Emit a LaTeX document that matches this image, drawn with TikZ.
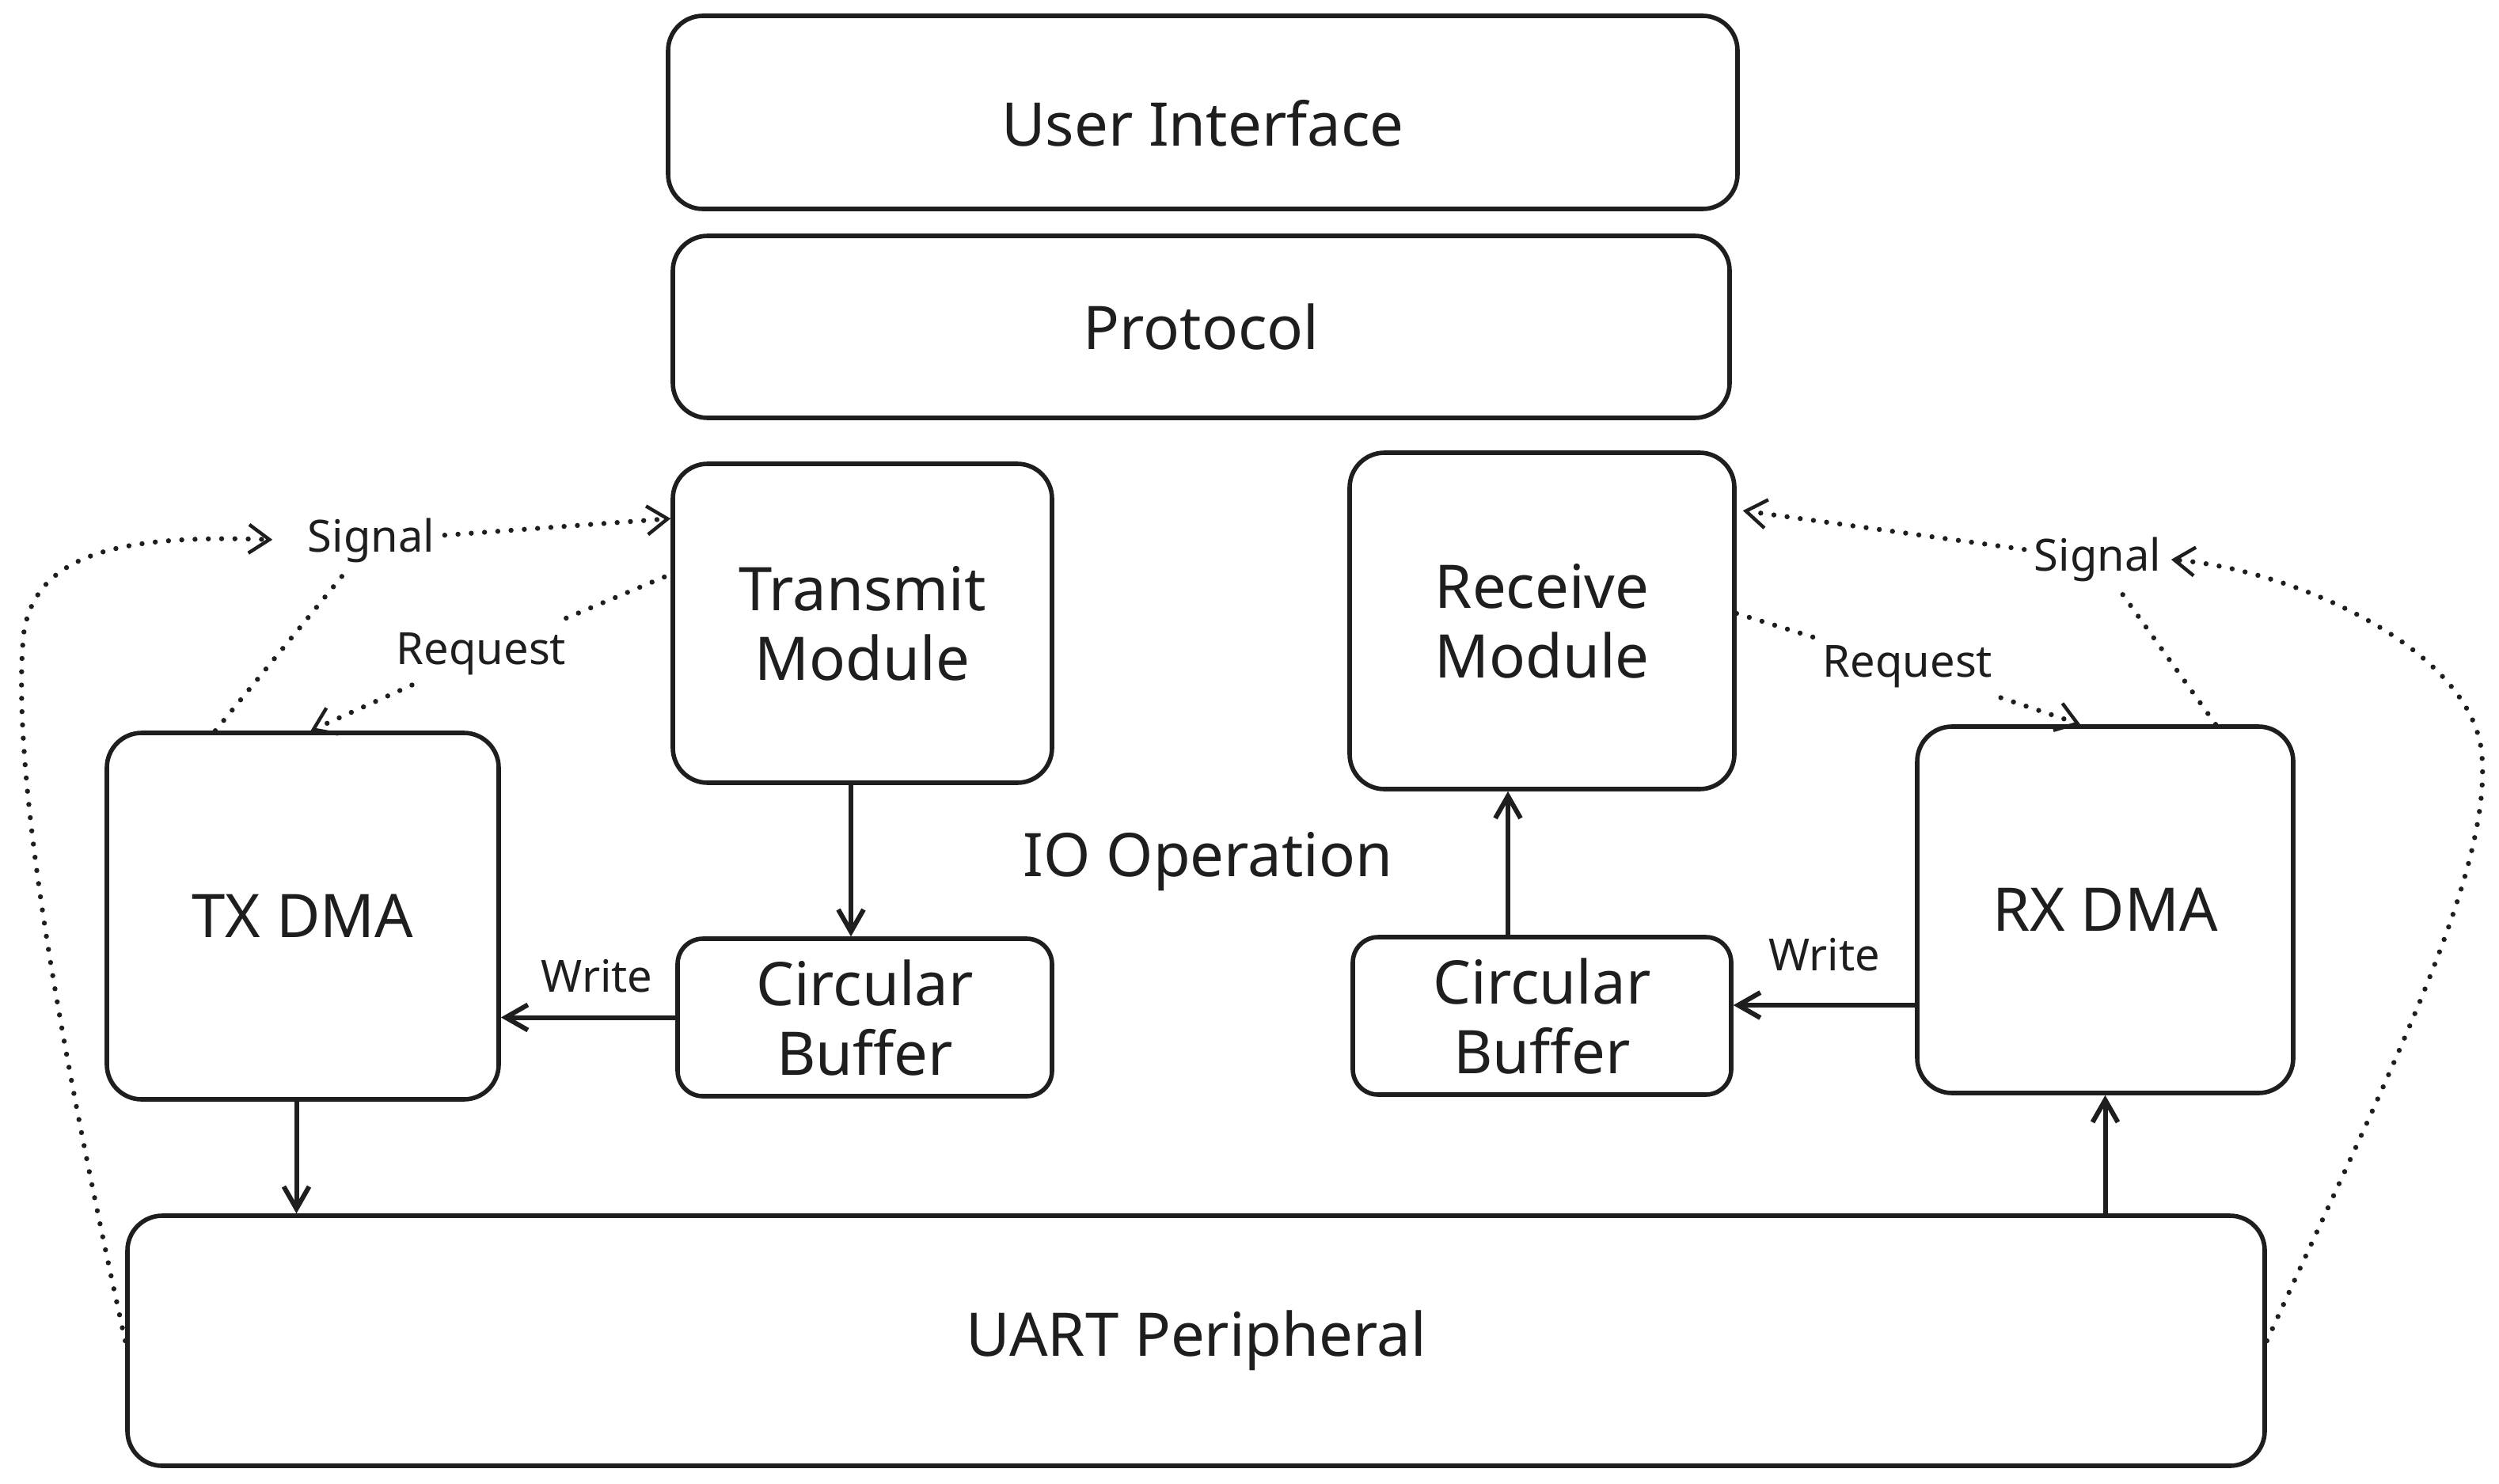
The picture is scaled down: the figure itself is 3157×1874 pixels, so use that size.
\documentclass[tikz,border=0pt]{standalone}
\usepackage{fontspec}
\setmainfont{Noto Sans}
\usetikzlibrary{arrows.meta,calc}
\definecolor{ink}{HTML}{1E1E1E}
\newcommand\mainfnt{\fontsize{19}{22}\selectfont}
\newcommand\edgefnt{\fontsize{14}{16}\selectfont}
\begin{document}
\begin{tikzpicture}[x=0.25pt,y=-0.25pt,
  box/.style={draw=ink,line width=1.4pt,rounded corners=11pt,align=center,font=\mainfnt,text=ink,inner sep=0pt},
  smallbox/.style={box,rounded corners=8pt},
  elabel/.style={font=\edgefnt,text=ink,inner sep=3pt},
  arr/.style={draw=ink,line width=1.5pt,-{Straight Barb[length=7pt,width=8pt]}},
  dot/.style={draw=ink,line width=1.6pt,line cap=round,dash pattern=on 0pt off 4.2pt},
  dtip/.style={-{Straight Barb[length=6.5pt,width=9pt,line width=1.1pt]}}]
\useasboundingbox (0,0) rectangle (3157,1874);
\fill[white] (0,0) rectangle (3157,1874);

% boxes
\node[box,minimum width=337.75pt,minimum height=61pt] (ui) at (1519.5,142) {\raisebox{-3.5pt}[\height][\depth]{User Interface}};
\node[box,minimum width=333.75pt,minimum height=57.5pt] (pr) at (1517.5,413) {Protocol};
\node[box,minimum width=119.75pt,minimum height=100.75pt] (tm) at (1089.5,787.5) {Transmit\\Module};
\node[box,minimum width=121.5pt,minimum height=106.25pt] (rm) at (1948,784.5) {Receive\\Module};
\node[box,minimum width=123.75pt,minimum height=115.75pt] (txdma) at (382.5,1157.5) {TX DMA};
\node[box,minimum width=118.75pt,minimum height=115.75pt] (rxdma) at (2659.5,1149.5) {RX DMA};
\node[smallbox,minimum width=118.25pt,minimum height=49.75pt] (cbl) at (1092.5,1285.5) {Circular\\Buffer};
\node[smallbox,minimum width=119.5pt,minimum height=49.75pt] (cbr) at (1948,1283.5) {Circular\\Buffer};
\node[box,minimum width=675pt,minimum height=79pt] (uart) at (1511,1694) {UART Peripheral};
\node[font=\mainfnt,text=ink] (io) at (1526,1089) {IO Operation};

% edge labels
\node[elabel] (sigL) at (469,683) {Signal};
\node[elabel] (reqL) at (608,826) {Request};
\node[elabel] (sigR) at (2650,707) {Signal};
\node[elabel] (reqR) at (2410,842) {Request};

% solid connectors
\coordinate (t1) at ($(tm.south)+(-14.5,0)$);
\draw[arr] (t1) -- (t1 |- cbl.north);
\draw[arr] (cbl.west) -- node[elabel,above=4pt,pos=0.45]{Write} (cbl.west -| txdma.east);
\coordinate (t2) at ($(txdma.south)+(-8,0)$);
\draw[arr] (t2) -- (t2 |- uart.north);
\draw[arr] (rxdma.south |- uart.north) -- (rxdma.south);
\coordinate (r1) at ($(rxdma.west)+(0,120.5)$);
\draw[arr] (r1) -- node[elabel,above=7pt]{Write} (r1 -| cbr.east);
\coordinate (r2) at ($(cbr.north)+(-43,0)$);
\draw[arr] (r2) -- (r2 |- rm.south);

% dotted connectors, left
\coordinate (s1) at ($(txdma.north)+(-110.5,0)$);
\coordinate (s2) at ($(tm.north west)+(0,72)$);
\draw[dot] (s1) -- (sigL);
\draw[dot,dtip] (sigL) -- (s2);
\coordinate (q1) at ($(tm.west)+(-8,-58.5)$);
\coordinate (q2) at ($(txdma.north)+(10,0)$);
\draw[dot] (q1) -- (reqL);
\draw[dot,dtip] (reqL) -- (q2);
\draw[dot,dtip,shorten >=8pt] (uart.west) .. controls (60,1250) and (15,950) .. (30,800) .. controls (45,700) and (150,675) .. (sigL.west);

% dotted connectors, right
\coordinate (q3) at ($(rm.east)+(0,-9.5)$);
\coordinate (q4) at ($(rxdma.north)+(-31.5,0)$);
\draw[dot] (q3) -- (reqR);
\draw[dot,dtip] (reqR) -- (q4);
\coordinate (q5) at ($(rxdma.north)+(139.5,0)$);
\coordinate (q6) at ($(rm.north east)+(8,76)$);
\draw[dot] (q5) -- (sigR);
\draw[dot,dtip] (sigR) -- (q6);
\draw[dot,dtip] (uart.east) .. controls (3020,1350) and (3150,1100) .. (3135,950) .. controls (3120,820) and (2900,720) .. (sigR.east);
\end{tikzpicture}
\end{document}
